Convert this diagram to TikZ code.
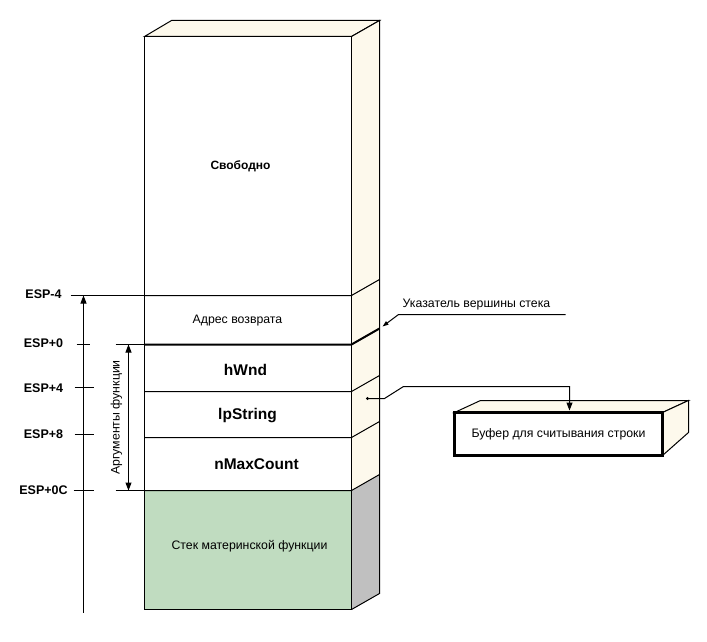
\documentclass[tikz,border=0pt]{standalone}
\usepackage{fontspec}
\setmainfont{Liberation Sans}
\usetikzlibrary{arrows.meta}
\definecolor{cream}{HTML}{FDF9EC}
\definecolor{stackgreen}{HTML}{C0DCC0}
\definecolor{sidegray}{HTML}{C0C0C0}
\tikzset{
  thinln/.style={line width=1pt},
  thickln/.style={line width=2pt},
  tip/.style={-{Triangle[width=6pt,length=8pt]}},
  esp/.style={font=\bfseries\fontsize{12.5}{12.5}\selectfont, inner sep=0pt},
  cell/.style={font=\fontsize{12.3}{12.5}\selectfont, inner sep=0pt},
  arg/.style={font=\bfseries\fontsize{15.5}{15.5}\selectfont, inner sep=0pt},
}
\begin{document}
\begin{tikzpicture}[x=1pt,y=-1pt]
\useasboundingbox (0,0) rectangle (707,642);
\begin{scope}[shift={(0.5,0.5)}]
% ---------- main column ----------
\fill[white] (144,36) rectangle (351,490);
\fill[stackgreen] (144,490) rectangle (351,609);
\filldraw[cream, draw=black, thinln] (144,36) -- (171,20) -- (379,20) -- (351,36) -- cycle;
\fill[cream] (351,36) -- (379,20) -- (379,474) -- (351,490) -- cycle;
\fill[sidegray] (351,490) -- (379,474) -- (379,593) -- (351,609) -- cycle;
\draw[thinln] (351,36) -- (379,20) -- (379,593) -- (351,609);
\draw[thinln] (144,36) rectangle (351,609);
% divisions
\foreach \yy in {295,391,437,490}{
  \draw[thinln] (144,\yy) -- (351,\yy) -- (379,\yy-16);
}
\draw[thickln] (144,344) -- (351,344) -- (379,328);
% texts
\node[font=\bfseries\fontsize{12}{12}\selectfont, inner sep=0pt] (free) at (240,166) {Свободно};
\node[cell] (ret) at (237,320) {Адрес возврата};
\node[arg] (hwnd) at (245,369) {hWnd};
\node[arg] (lps) at (247,415) {lpString};
\node[arg] (nmax) at (256,464) {nMaxCount};
\node[cell] (parent) at (249,546) {Стек материнской функции};
% ---------- left scale ----------
\node[esp] (e1) at (43,294) {ESP-4};
\node[esp] (e2) at (43,343) {ESP+0};
\node[esp] (e3) at (43,388) {ESP+4};
\node[esp] (e4) at (43,434) {ESP+8};
\node[esp] (e5) at (43,490) {ESP+0C};
\draw[thinln] (70,295) -- (144,295);
\draw[thinln] (76,344) -- (89,344);
\draw[thinln] (74,387) -- (93,387);
\draw[thinln] (74,434) -- (93,434);
\draw[thinln] (73,490) -- (93,490);
\draw[thinln] (115,344) -- (144,344);
\draw[thinln] (115,490) -- (144,490);
\coordinate (axbot) at (83,612);
\coordinate (axtop) at (83,295);
\draw[thinln, tip] (axbot) -- (axtop);
\coordinate (argtop) at (128,344);
\coordinate (argbot) at (128,490);
\draw[thinln, {Triangle[width=6pt,length=8pt]}-{Triangle[width=6pt,length=8pt]}] (argtop) -- (argbot);
\node[cell, rotate=90] (args) at (116,417) {Аргументы функции};
% ---------- stack pointer label ----------
\node[cell, anchor=base west] (sp) at (402,307) {Указатель вершины стека};
\coordinate (spr) at (565,314);
\coordinate (spl) at (398,314);
\coordinate (sptip) at (382,326);
\draw[thinln, -{Triangle[width=4pt,length=6pt]}] (spr) -- (spl) -- (sptip);
% ---------- buffer ----------
\filldraw[cream, draw=black, thinln] (454,412) -- (480,400) -- (688,400) -- (662,412) -- cycle;
\filldraw[cream, draw=black, thinln] (662,412) -- (688,400) -- (688,432) -- (662,455) -- cycle;
\draw[line width=2.5pt, fill=white] (454,412) rectangle (662,455);
\node[cell] (buf) at (558,434) {Буфер для считывания строки};
\coordinate (pdot) at (367,398);
\fill (pdot) circle (1.6pt);
\coordinate (pa) at (384,398);
\coordinate (pb) at (403,386);
\coordinate (pc) at (569,386);
\coordinate (pd) at (569,410);
\draw[thinln, tip] (pdot) -- (pa) -- (pb) -- (pc) -- (pd);
\end{scope}
\end{tikzpicture}
\end{document}
